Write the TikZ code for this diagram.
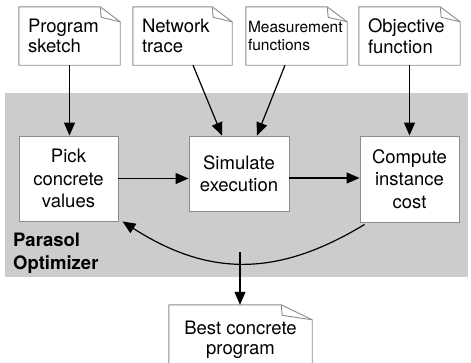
\documentclass[tikz,border=0pt]{standalone}
\usepackage{fontspec}
\setmainfont{TeX Gyre Heros}
\usetikzlibrary{arrows.meta,calc}
\definecolor{optgray}{HTML}{CCCCCC}
\definecolor{edgegray}{HTML}{8C8C8C}
\tikzset{
  docline/.style={draw=edgegray, line width=0.9pt, line join=round},
  docbox/.style={fill=white, inner sep=0pt, align=left, font=\fontsize{18.5}{20.5}\selectfont},
  procbox/.style={draw=edgegray, line width=0.9pt, fill=white, inner sep=0pt, align=center, font=\fontsize{18.5}{22.5}\selectfont},
  conn/.style={line width=1.2pt, -{Triangle[length=13pt,width=11pt]}},
}
\newcommand\docfold[3]{%
  \draw[docline] (#1.north west) -- ($(#1.north east)+(-#2,0)$) -- ($(#1.north east)+(0,#3)$) -- (#1.south east) -- (#1.south west) -- cycle;
  \draw[docline] ($(#1.north east)+(-#2,0)$) -- ($(#1.north east)+(-#2+1,#3*0.7)$) -- ($(#1.north east)+(0,#3)$);
}
\begin{document}
\begin{tikzpicture}[x=1pt,y=-1pt]
\useasboundingbox (0,0) rectangle (471,362);
% optimizer background
\node[fill=optgray, inner sep=0pt, minimum width=463pt, minimum height=184pt] (opt) at (236.5,185) {};
\node[font=\bfseries\fontsize{18.5}{23}\selectfont, align=left, anchor=north west, inner sep=0pt] (lbl) at (13,233) {Parasol\\Optimizer};
% input documents
\node[docbox, minimum width=101pt, minimum height=58pt, text width=83pt] (ps) at (69.5,36) {Program\\sketch};
\docfold{ps}{20}{15}
\node[docbox, minimum width=99pt, minimum height=58pt, text width=81pt] (nt) at (182.5,36) {Network\\trace};
\docfold{nt}{20}{15}
\node[docbox, minimum width=101pt, minimum height=58pt, text width=97pt, font=\fontsize{15.5}{18}\selectfont] (mf) at (296.5,36) {Measurement\\functions};
\docfold{mf}{20}{15}
\node[docbox, minimum width=101pt, minimum height=58pt, text width=83pt] (of) at (409.5,36) {Objective\\function};
\docfold{of}{20}{15}
% process boxes
\node[procbox, minimum width=99pt, minimum height=85pt] (pick) at (68.5,178.5) {Pick\\concrete\\values};
\node[procbox, minimum width=100pt, minimum height=75pt] (sim) at (239,173.5) {Simulate\\execution};
\node[procbox, minimum width=99pt, minimum height=86pt] (comp) at (409.5,179) {Compute\\instance\\cost};
% output document
\node[docbox, align=center, minimum width=143pt, minimum height=70pt] (best) at (240.5,340) {Best concrete\\program};
\docfold{best}{31}{15}
% connectors
\draw[conn] (ps.south) -- (ps.south |- pick.north);
\draw[conn] ([xshift=10.5pt]nt.south) -- ([xshift=-17pt]sim.north);
\draw[conn] ([xshift=-11.5pt]mf.south) -- ([xshift=18pt]sim.north);
\draw[conn] (of.south) -- (of.south |- comp.north);
\draw[conn] (pick.east) -- (pick.east -| sim.west);
\draw[conn] ([yshift=-4.5pt]sim.east) -- ([yshift=-4.5pt]sim.east -| comp.west);
\draw[conn] ([xshift=5pt,yshift=-2pt]comp.south west) .. controls (278,277) and (209,277) .. ([xshift=4pt]pick.south east);
\coordinate (outsrc) at (240,252);
\draw[conn] (outsrc) -- (outsrc |- best.north);
\end{tikzpicture}
\end{document}
